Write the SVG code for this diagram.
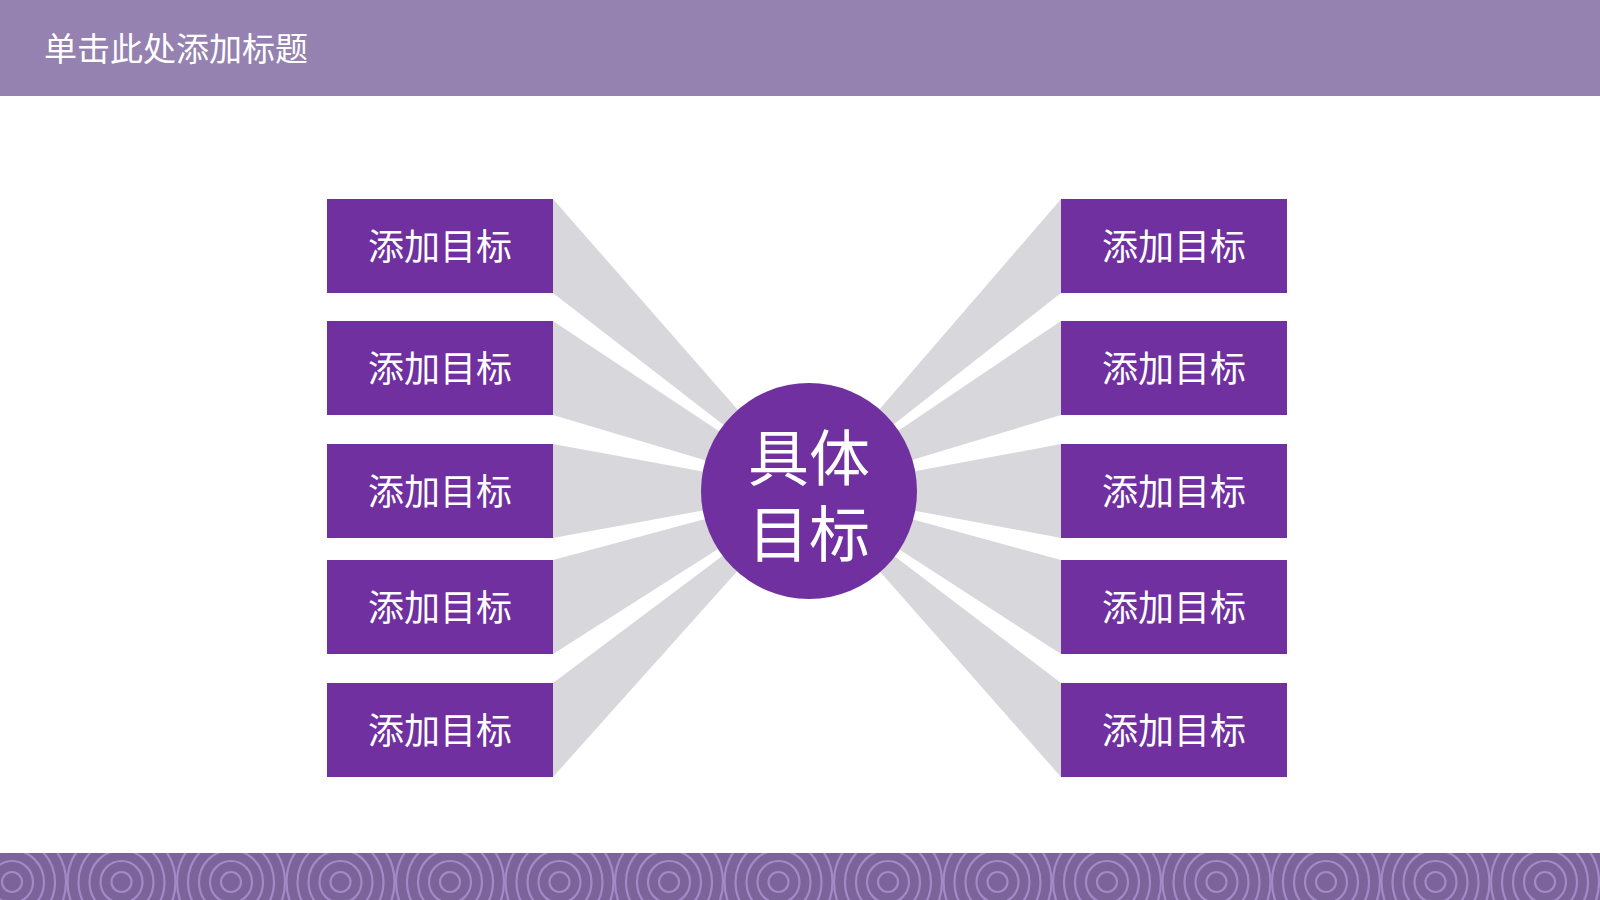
<svg xmlns="http://www.w3.org/2000/svg" xmlns:xlink="http://www.w3.org/1999/xlink" width="1600" height="900" viewBox="0 0 1600 900">
  <defs>
    <style>
      .box { fill: #7030A0; }
      .ray { fill: #D8D7DB; }
      .lbl { font-family: "Noto Sans CJK SC", "Noto Sans", sans-serif; font-size: 36px; fill: #FFFFFF; text-anchor: middle; dominant-baseline: central; }
      .big { font-family: "Noto Sans CJK SC", "Noto Sans", sans-serif; font-size: 61px; fill: #FFFFFF; text-anchor: middle; dominant-baseline: central; }
      .title { font-family: "Noto Sans CJK SC", "Noto Sans", sans-serif; font-size: 33px; fill: #FFFFFF; }
      .ring { fill: none; stroke: #A38AC6; stroke-width: 2.2; }
    </style>
    <g id="rings">
      <circle class="ring" cx="0" cy="0" r="10"/>
      <circle class="ring" cx="0" cy="0" r="21"/>
      <circle class="ring" cx="0" cy="0" r="32"/>
      <circle class="ring" cx="0" cy="0" r="43"/>
      <circle class="ring" cx="0" cy="0" r="54"/>
    </g>
    <clipPath id="bandClip">
      <rect x="0" y="853" width="1600" height="47"/>
    </clipPath>
  </defs>

  <rect x="0" y="0" width="1600" height="900" fill="#FFFFFF"/>

  <!-- header -->
  <g id="header">
    <rect x="0" y="0" width="1600" height="96" fill="#9682B0"/>
    <text class="title" x="44" y="61">单击此处添加标题</text>
  </g>

  <!-- footer band -->
  <g id="footer" clip-path="url(#bandClip)">
    <rect x="0" y="853" width="1600" height="47" fill="#7B6499"/>
    <use xlink:href="#rings" x="12" y="882"/>
    <use xlink:href="#rings" x="121.5" y="882"/>
    <use xlink:href="#rings" x="231" y="882"/>
    <use xlink:href="#rings" x="340.5" y="882"/>
    <use xlink:href="#rings" x="450" y="882"/>
    <use xlink:href="#rings" x="559.5" y="882"/>
    <use xlink:href="#rings" x="669" y="882"/>
    <use xlink:href="#rings" x="778.5" y="882"/>
    <use xlink:href="#rings" x="888" y="882"/>
    <use xlink:href="#rings" x="997.5" y="882"/>
    <use xlink:href="#rings" x="1107" y="882"/>
    <use xlink:href="#rings" x="1216.5" y="882"/>
    <use xlink:href="#rings" x="1326" y="882"/>
    <use xlink:href="#rings" x="1435.5" y="882"/>
    <use xlink:href="#rings" x="1545" y="882"/>
    <use xlink:href="#rings" x="1654.5" y="882"/>
  </g>

  <!-- connectors -->
  <g id="connectors">
    <polygon class="ray" points="553,199 553,293 809,491"/>
    <polygon class="ray" points="553,321 553,415 809,491"/>
    <polygon class="ray" points="553,444 553,538 809,491"/>
    <polygon class="ray" points="553,560 553,654 809,491"/>
    <polygon class="ray" points="553,683 553,777 809,491"/>
    <polygon class="ray" points="1061,199 1061,293 809,491"/>
    <polygon class="ray" points="1061,321 1061,415 809,491"/>
    <polygon class="ray" points="1061,444 1061,538 809,491"/>
    <polygon class="ray" points="1061,560 1061,654 809,491"/>
    <polygon class="ray" points="1061,683 1061,777 809,491"/>
  </g>

  <g id="center">
    <circle cx="809" cy="491" r="108" fill="#7030A0"/>
    <text class="big"><tspan x="809" y="454">具体</tspan><tspan x="809" y="530">目标</tspan></text>
  </g>

  <g id="L1"><rect class="box" x="327" y="199" width="226" height="94"/><text class="lbl" x="440" y="244">添加目标</text></g>
  <g id="L2"><rect class="box" x="327" y="321" width="226" height="94"/><text class="lbl" x="440" y="366">添加目标</text></g>
  <g id="L3"><rect class="box" x="327" y="444" width="226" height="94"/><text class="lbl" x="440" y="489">添加目标</text></g>
  <g id="L4"><rect class="box" x="327" y="560" width="226" height="94"/><text class="lbl" x="440" y="605">添加目标</text></g>
  <g id="L5"><rect class="box" x="327" y="683" width="226" height="94"/><text class="lbl" x="440" y="728">添加目标</text></g>

  <g id="R1"><rect class="box" x="1061" y="199" width="226" height="94"/><text class="lbl" x="1174" y="244">添加目标</text></g>
  <g id="R2"><rect class="box" x="1061" y="321" width="226" height="94"/><text class="lbl" x="1174" y="366">添加目标</text></g>
  <g id="R3"><rect class="box" x="1061" y="444" width="226" height="94"/><text class="lbl" x="1174" y="489">添加目标</text></g>
  <g id="R4"><rect class="box" x="1061" y="560" width="226" height="94"/><text class="lbl" x="1174" y="605">添加目标</text></g>
  <g id="R5"><rect class="box" x="1061" y="683" width="226" height="94"/><text class="lbl" x="1174" y="728">添加目标</text></g>
</svg>
